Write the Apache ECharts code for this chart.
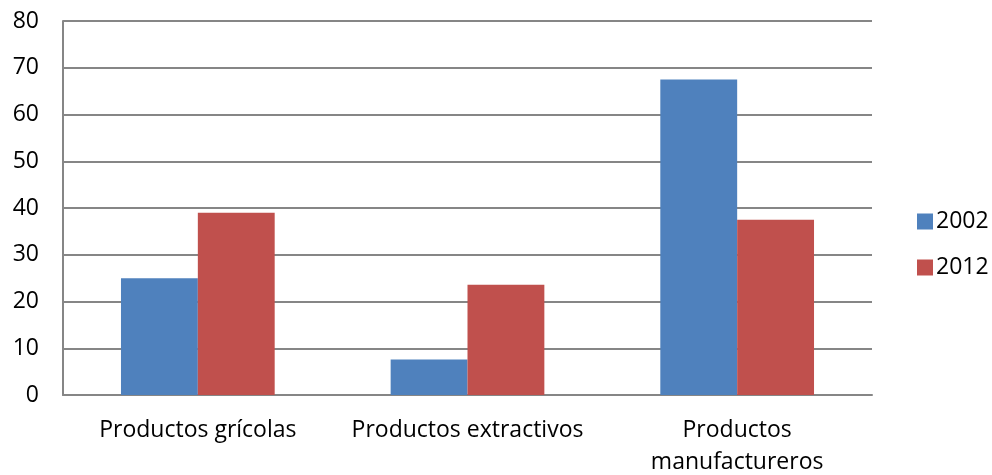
<!DOCTYPE html>
<html>
<head>
<meta charset="utf-8">
<script src="https://cdn.jsdelivr.net/npm/echarts@6/dist/echarts.min.js"></script>
<style>
  html, body { margin: 0; padding: 0; background: #fff; }
  #chart { width: 992px; height: 475px; }
</style>
</head>
<body>
<div id="chart"></div>
<script>
// Categories and values per year
const categories = ['Productos grícolas', 'Productos extractivos', 'Productos\nmanufactureros'];
const years = ['2002', '2012'];
const values2002 = [25, 7.6, 67.5];
const values2012 = [39, 23.6, 37.5];
const yTicks = { min: 0, max: 80, interval: 10 };

const FONT = '"Open Sans", "Liberation Sans", sans-serif';
const chart = echarts.init(document.getElementById('chart'), null, { renderer: 'canvas' });

chart.setOption({
  animation: false,
  textStyle: { fontFamily: FONT },
  grid: {
    left: 63, right: 120, top: 21, bottom: 80,
    containLabel: false,
    outerBoundsMode: 'none'
  },
  legend: {
    orient: 'vertical',
    left: 912,
    top: 205,
    itemWidth: 16,
    itemHeight: 16,
    itemGap: 23,
    icon: 'rect',
    textStyle: { fontSize: 23, color: '#000', fontFamily: FONT, padding: [0, 0, 0, -2] },
    data: years
  },
  xAxis: {
    type: 'category',
    data: categories,
    axisLine: { lineStyle: { color: '#868686', width: 2 } },
    axisTick: { show: false },
    axisLabel: {
      interval: 0,
      hideOverlap: false,
      fontSize: 23,
      color: '#000',
      margin: 19,
      lineHeight: 32,
      fontFamily: FONT
    }
  },
  yAxis: {
    type: 'value',
    min: yTicks.min,
    max: yTicks.max,
    interval: yTicks.interval,
    axisLine: { show: true, lineStyle: { color: '#868686', width: 2 } },
    axisTick: { show: false },
    splitLine: { lineStyle: { color: '#868686', width: 2 } },
    axisLabel: { fontSize: 23, color: '#000', margin: 24, fontFamily: FONT }
  },
  series: [
    {
      name: years[0],
      type: 'bar',
      data: values2002,
      barGap: '0%',
      barCategoryGap: '43%',
      itemStyle: { color: '#4F81BD' }
    },
    {
      name: years[1],
      type: 'bar',
      data: values2012,
      itemStyle: { color: '#C0504D' }
    }
  ]
});
</script>
</body>
</html>
